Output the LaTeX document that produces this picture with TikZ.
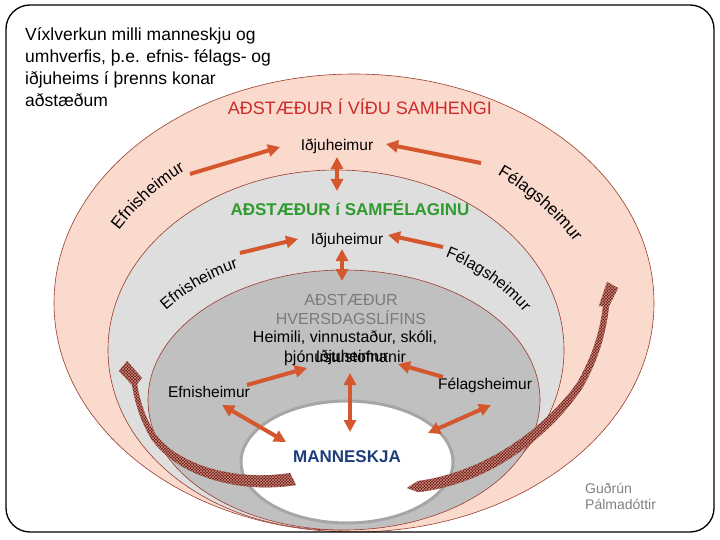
\documentclass[tikz,border=0pt]{standalone}
\usepackage{fontspec}
\setmainfont{Liberation Sans}
\usetikzlibrary{arrows.meta,decorations.text,patterns}
\definecolor{ringpink}{HTML}{FADACD}
\definecolor{ringlight}{HTML}{DEDEDE}
\definecolor{ringdark}{HTML}{C0C0C0}
\definecolor{ringedge}{HTML}{9A3B2B}
\definecolor{flowred}{HTML}{D4572D}
\definecolor{spiralred}{HTML}{6E160E}
\definecolor{hatchpink}{HTML}{C98F84}
\definecolor{widered}{HTML}{CC2B2B}
\definecolor{socgreen}{HTML}{2E9B2E}
\definecolor{daygray}{HTML}{7A7A7A}
\definecolor{personblue}{HTML}{1F3D7A}
\newcommand{\fsz}[1]{\fontsize{#1pt}{#1pt}\selectfont}

\begin{document}
\begin{tikzpicture}[x=1pt,y=-1pt,
    ring/.style={draw=ringedge,line width=0.6pt},
    flow/.style={draw=flowred,line width=4pt,-{Triangle[length=12pt,width=12pt]}},
    flowboth/.style={flow,{Triangle[length=12pt,width=12pt]}-{Triangle[length=12pt,width=12pt]}},
    spiral/.style={fill=spiralred,postaction={pattern=crosshatch,pattern color=hatchpink}},
    lbl/.style={inner sep=0pt,font=\fsz{15.5}},
    curved/.style={decorate,decoration={text along path,text align=center}}]
    \useasboundingbox (0,0) rectangle (720,540);
    % rings, clipped to the frame
    \begin{scope}
      \clip[rounded corners=24pt] (6,5) rectangle (714,532);
      \filldraw[ring,fill=ringpink] (354,303) ellipse [x radius=300,y radius=229];
      \filldraw[ring,fill=ringlight] (336,350) ellipse [x radius=228,y radius=180];
      \filldraw[ring,fill=ringdark] (344,400) ellipse [x radius=196,y radius=130];
    \end{scope}
    \filldraw[fill=white,draw=gray!70,line width=3pt] (347,462) ellipse [x radius=106,y radius=61];
    % spiral arrows
    \path[spiral] (296,485) .. controls (240,494) and (179,477) .. (152,440)
      .. controls (141,423) and (135,403) .. (132,385) -- (119,371) -- (127,361)
      -- (142,378) -- (137,384) .. controls (140,402) and (146,420) .. (156,435)
      .. controls (182,468) and (240,481) .. (290,473) -- cycle;
    \path[spiral] (407,488) -- (418,481) .. controls (480,473) and (541,433) .. (577,383)
      .. controls (592,357) and (600,332) .. (603,306) -- (599,306) -- (607,282)
      -- (618,288) -- (609,306) .. controls (606,335) and (597,362) .. (583,387)
      .. controls (548,440) and (485,485) .. (418,492) -- cycle;
    \draw[line width=1.3pt,rounded corners=24pt] (6,5) rectangle (714,532);

    % texts
    \node[anchor=north west,align=left,inner sep=0pt,font=\fontsize{17.5pt}{22pt}\selectfont]
      (title) at (25,27) {Víxlverkun milli manneskju og\\umhverfis, þ.e. efnis- félags- og\\iðjuheims í þrenns konar\\aðstæðum};
    \node[lbl,font=\fsz{18},text=widered] (wide) at (360,107) {AÐSTÆÐUR Í VÍÐU SAMHENGI};
    \node[lbl] (iOuter) at (337,146) {Iðjuheimur};
    \node[lbl,font=\bfseries\fsz{17},text=socgreen] (society) at (350,208) {AÐSTÆÐUR í SAMFÉLAGINU};
    \node[lbl] (iMid) at (347,240) {Iðjuheimur};
    \node[lbl,align=center,font=\fontsize{16pt}{19pt}\selectfont,text=daygray] (daily) at (351,309) {AÐSTÆÐUR\\HVERSDAGSLÍFINS};
    \node[lbl,align=center,font=\fontsize{16pt}{20pt}\selectfont] (places) at (345,348) {Heimili, vinnustaður, skóli,\\þjónustustofnanir};
    \node[lbl] (iIn) at (352,357) {Iðjuheimur};
    \node[lbl] (eIn) at (209,392) {Efnisheimur};
    \node[lbl] (fIn) at (485,385) {Félagsheimur};
    \node[lbl,font=\bfseries\fsz{17},text=personblue] (person) at (347,457) {MANNESKJA};
    \node[anchor=north west,align=left,inner sep=0pt,font=\fontsize{14pt}{16pt}\selectfont,text=gray]
      (author) at (585,483) {Guðrún\\Pálmadóttir};

    % curved labels
    \path[curved,decoration={text={|\fsz{17}|Efnisheimur}}]
      (312,378) ++(-152:243) arc [start angle=-152,end angle=-112,radius=243];
    \path[curved,decoration={text={|\fsz{17}|Félagsheimur}}]
      (366,404) ++(-70:264) arc [start angle=-70,end angle=-28,radius=264];
    \path[curved,decoration={text={|\fsz{16}|Efnisheimur}}]
      (302,462) ++(-140:204) arc [start angle=-140,end angle=-100,radius=204];
    \path[curved,decoration={text={|\fsz{16}|Félagsheimur}}]
      (371,447) ++(-77:204) arc [start angle=-77,end angle=-33,radius=204];

    % flow arrows
    \coordinate (oL1) at (190,174); \coordinate (oL2) at (280,147);
    \coordinate (oR1) at (481,163); \coordinate (oR2) at (386,144);
    \coordinate (oV1) at (337,157); \coordinate (oV2) at (337,191);
    \coordinate (mL1) at (240,253); \coordinate (mL2) at (298,239);
    \coordinate (mR1) at (443,247); \coordinate (mR2) at (388,235);
    \coordinate (mV1) at (342,249); \coordinate (mV2) at (342,281);
    \coordinate (iL1) at (247,385); \coordinate (iL2) at (307,368);
    \coordinate (iR1) at (443,377); \coordinate (iR2) at (398,364);
    \coordinate (iV1) at (350,373); \coordinate (iV2) at (350,432);
    \coordinate (iD1) at (222,405); \coordinate (iD2) at (286,442);
    \coordinate (iE1) at (491,405); \coordinate (iE2) at (428,433);
    \foreach \a/\b in {oL1/oL2,oR1/oR2,mL1/mL2,mR1/mR2,iL1/iL2,iR1/iR2}
      \draw[flow] (\a) -- (\b);
    \foreach \a/\b in {oV1/oV2,mV1/mV2,iV1/iV2,iD1/iD2,iE1/iE2}
      \draw[flowboth] (\a) -- (\b);
\end{tikzpicture}
\end{document}
